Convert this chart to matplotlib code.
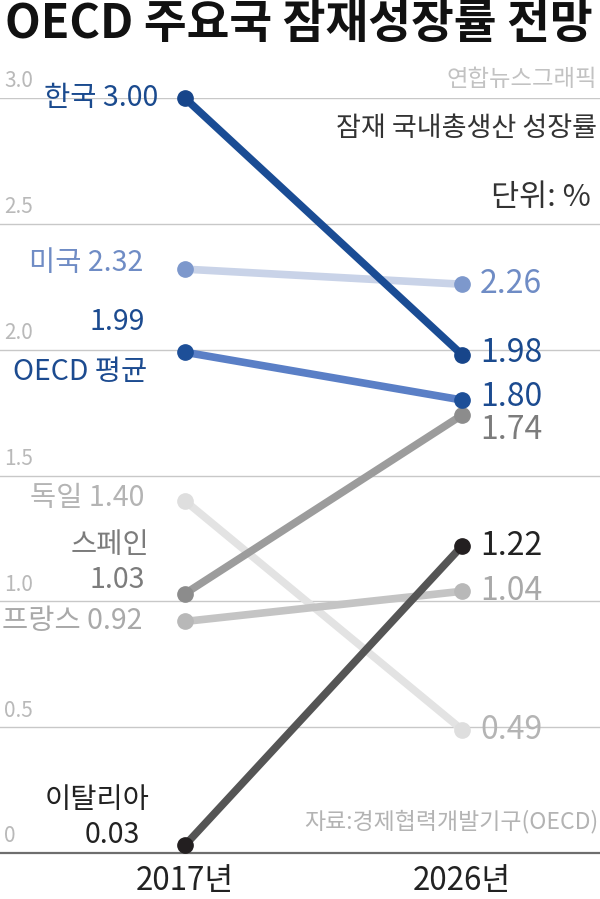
import matplotlib
matplotlib.use("Agg")
import matplotlib.pyplot as plt
from matplotlib.transforms import ScaledTranslation

plt.rcParams['font.family'] = ['Noto Sans CJK KR', 'DejaVu Sans']

# data
years = ['2017년', '2026년']
countries = ['독일', '프랑스', '미국', '스페인', 'OECD 평균', '한국', '이탈리아']
v2017 = [1.40, 0.92, 2.32, 1.03, 1.99, 3.00, 0.03]
v2026 = [0.49, 1.04, 2.26, 1.74, 1.80, 1.98, 1.22]
yticks = [0, 0.5, 1.0, 1.5, 2.0, 2.5, 3.0]
ytick_labels = ['0', '0.5', '1.0', '1.5', '2.0', '2.5', '3.0']

# styles: line colour, marker colour, text colour
line_c = ['#e3e3e3', '#c4c4c4', '#c9d3e8', '#9c9c9c', '#5a7fc6', '#1a4c94', '#555555']
mark_c = ['#dedede', '#b8b8b8', '#7d98cc', '#8c8c8c', '#1d4f98', '#17458a', '#231f20']
text_c = ['#b4b4b4', '#a9a9a9', '#6f8cc5', '#7c7c7c', '#1c4b90', '#1a4a8e', '#222222']
# label offsets in pixels
left_off = [(-40, 3), (-42, 0), (-42, 6), (-40, 14), (-40, 30), (-27, 0), (-45, 10)]
name_off = [None, None, None, (-35, 49), (-38, -20), None, (-35, 45)]
right_off = [0, 0, 0, -15, 3, 2, 0]

fig = plt.figure(figsize=(6, 8.99), dpi=100)
ax = fig.add_axes([0, 1 - 853 / 899, 1, (853 - 98) / 899])
ax.set_ylim(0, 3.0)
ax.set_xlim(-0.308 / 0.462, (1 - 0.308) / 0.462)

for y in yticks[1:]:
    ax.axhline(y, color='#c8c8c8', lw=1, zorder=0)
ax.axhline(0, color='#6e6e6e', lw=1.6, zorder=0, clip_on=False)

for i, name in enumerate(countries):
    ax.plot([0, 1], [v2017[i], v2026[i]], color=line_c[i], lw=5.5,
            solid_capstyle='round', zorder=2 + i, clip_on=False)
    ax.plot([0, 1], [v2017[i], v2026[i]], ls='none', marker='o', ms=11,
            color=mark_c[i], zorder=2 + i, clip_on=False)
    if name_off[i] is None:
        lab = f'{name} {v2017[i]:.2f}'
    else:
        lab = f'{v2017[i]:.2f}'
        ax.annotate(name, (0, v2017[i]), xytext=name_off[i], textcoords='offset pixels',
                    ha='right', va='center', fontsize=20.5, color=text_c[i])
    ax.annotate(lab, (0, v2017[i]), xytext=left_off[i], textcoords='offset pixels',
                ha='right', va='center', fontsize=20.5, color=text_c[i])
    ax.annotate(f'{v2026[i]:.2f}', (1, v2026[i]), xytext=(18, right_off[i]),
                textcoords='offset pixels', ha='left', va='center',
                fontsize=23, color=text_c[i])

ax.set_yticks(yticks, ytick_labels)
ax.tick_params(axis='y', length=0, pad=-3, labelsize=15, labelcolor='#b9b9b9')
lift = ScaledTranslation(0, 4 / 72, fig.dpi_scale_trans)
for t in ax.get_yticklabels():
    t.set_horizontalalignment('left')
    t.set_verticalalignment('bottom')
    t.set_transform(t.get_transform() + lift)
ax.set_xticks([0, 1], years)
ax.tick_params(axis='x', length=0, pad=9, labelsize=22.5, labelcolor='#222222')
for s in ax.spines.values():
    s.set_visible(False)

fig.text(0.008, 0.973, 'OECD 주요국 잠재성장률 전망', fontsize=33.5, fontweight='bold',
         ha='left', va='center', color='#111111')
fig.text(0.995, 1 - 80 / 899, '연합뉴스그래픽', fontsize=16.8, ha='right', va='center',
         color='#c2c2c2')
fig.text(0.995, 1 - 128 / 899, '잠재 국내총생산 성장률', fontsize=19.5, ha='right', va='center',
         color='#333333')
fig.text(0.985, 1 - 197 / 899, '단위: %', fontsize=22, ha='right', va='center',
         color='#333333')
fig.text(0.998, 1 - 822 / 899, '자료:경제협력개발기구(OECD)', fontsize=16.5, ha='right',
         va='center', color='#b3b3b3')

fig.savefig('out.png', dpi=100)
